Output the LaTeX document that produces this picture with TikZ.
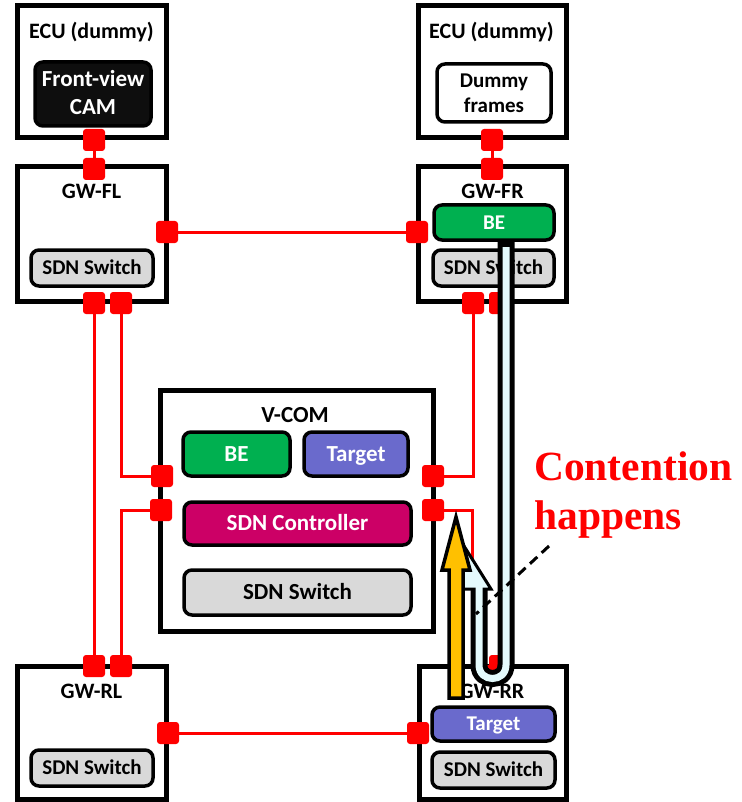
\documentclass[tikz,border=0pt]{standalone}
\usepackage{fontspec}
\setmainfont{Carlito}
\newfontfamily\notefont{Liberation Serif}

\definecolor{beGreen}{RGB}{0,176,80}
\definecolor{tgtPurple}{RGB}{106,106,204}
\definecolor{ctrlMagenta}{RGB}{204,0,102}
\definecolor{swGray}{RGB}{217,217,217}
\definecolor{portRed}{RGB}{255,0,0}
\definecolor{pipeCyan}{RGB}{228,250,252}
\definecolor{flowOrange}{RGB}{255,192,0}
\definecolor{camBlack}{RGB}{14,14,14}

\tikzset{
  unit/.style={draw=black, line width=5pt, fill=white, inner sep=0pt},
  panel/.style={draw=black, line width=3.5pt, rounded corners=8pt, inner sep=0pt},
  gwtext/.style={font=\bfseries\fontsize{21}{25}\selectfont, text height=13.5pt, text depth=0pt},
  vctext/.style={font=\bfseries\fontsize{23}{27}\selectfont, text height=14.8pt, text depth=0pt},
  title/.style={anchor=base, inner sep=0pt, font=\bfseries\fontsize{22}{26}\selectfont},
  linetext/.style={anchor=base, inner sep=0pt},
  port/.style={fill=portRed, rounded corners=3pt, minimum size=22pt, inner sep=0pt},
  link/.style={draw=portRed, line width=3pt},
  note/.style={anchor=base west, inner sep=0pt, text=portRed,
    font=\notefont\bfseries\fontsize{41.5}{48}\selectfont},
}

\begin{document}
\begin{tikzpicture}[x=1pt,y=-1pt]
\useasboundingbox (0,0) rectangle (741,802);

% ---------- units ----------
\node[unit, minimum width=149pt, minimum height=132pt] (ecuL) at (91.5,72) {};
\node[unit, minimum width=148pt, minimum height=132pt] (ecuR) at (492,72) {};
\node[unit, minimum width=149pt, minimum height=134pt] (gwFL) at (91.5,234) {};
\node[unit, minimum width=148pt, minimum height=134pt] (gwFR) at (492,234) {};
\node[unit, minimum width=273pt, minimum height=241pt] (vcom) at (296.5,510.5) {};
\node[unit, minimum width=149pt, minimum height=133.5pt] (gwRL) at (91.5,732.75) {};
\node[unit, minimum width=147pt, minimum height=133.5pt] (gwRR) at (492.5,732.75) {};

% ---------- unit titles ----------
\node[title] (ecuLt) at (91.5,39) {ECU (dummy)};
\node[title] (ecuRt) at (491.5,39) {ECU (dummy)};
\node[title] (gwFLt) at (91.5,199) {GW-FL};
\node[title] (gwFRt) at (492.5,199) {GW-FR};
\node[title] (gwRLt) at (91.5,698) {GW-RL};
\node[title] (gwRRt) at (492,698) {GW-RR};
\node[title, font=\bfseries\fontsize{23}{27}\selectfont] (vcomt) at (295,422) {V-COM};

% ---------- ECU contents ----------
\node[panel, fill=camBlack, minimum width=116pt, minimum height=64pt] (cam) at (93,94) {};
\node[linetext, text=white, font=\bfseries\fontsize{23}{27}\selectfont] (camA) at (93,87) {Front-view};
\node[linetext, text=white, font=\bfseries\fontsize{23}{27}\selectfont] (camB) at (93,115) {CAM};

\node[panel, fill=white, minimum width=114pt, minimum height=58pt] (dummy) at (494,93) {};
\node[linetext, font=\bfseries\fontsize{21}{25}\selectfont] (dummyA) at (494,88) {Dummy};
\node[linetext, font=\bfseries\fontsize{21}{25}\selectfont] (dummyB) at (494,113) {frames};

% ---------- gateway contents ----------
\node[panel, gwtext, fill=swGray, minimum width=122pt, minimum height=36pt] (swFL) at (92,268) {SDN Switch};
\node[panel, gwtext, fill=beGreen, text=white, minimum width=120pt, minimum height=35pt] (beFR) at (494,222.5) {BE};
\node[panel, gwtext, fill=swGray, minimum width=121pt, minimum height=36pt] (swFR) at (493.5,268) {SDN Switch};
\node[panel, gwtext, fill=swGray, minimum width=122pt, minimum height=36pt] (swRL) at (92,768) {SDN Switch};
\node[panel, gwtext, fill=tgtPurple, text=white, minimum width=123pt, minimum height=34pt] (tgtRR) at (493.5,724) {Target};
\node[panel, gwtext, fill=swGray, minimum width=123pt, minimum height=36pt] (swRR) at (493.5,770) {SDN Switch};

% ---------- V-COM contents ----------
\node[panel, vctext, fill=beGreen, text=white, minimum width=107pt, minimum height=44pt] (beV) at (236.5,454) {BE};
\node[panel, vctext, fill=tgtPurple, text=white, minimum width=104pt, minimum height=44pt] (tgtV) at (356,454) {Target};
\node[panel, vctext, fill=ctrlMagenta, text=white, minimum width=227pt, minimum height=43pt] (ctlV) at (297.5,523.5) {SDN Controller};
\node[panel, vctext, fill=swGray, minimum width=227pt, minimum height=45pt] (swV) at (297.5,592.5) {SDN Switch};

% ---------- ports ----------
\node[port] (pEL) at (94,140) {};
\node[port] (pFLt) at (94,169) {};
\node[port] (pER) at (492,140) {};
\node[port] (pFRt) at (492,169) {};
\node[port] (pFLr) at (167,232) {};
\node[port] (pFRl) at (417,232) {};
\node[port] (pFLb1) at (94,303) {};
\node[port] (pFLb2) at (121,303) {};
\node[port] (pRLt1) at (94,666) {};
\node[port] (pRLt2) at (121,666) {};
\node[port] (pVl1) at (162,476) {};
\node[port] (pVl2) at (161,510) {};
\node[port] (pVr1) at (433,476) {};
\node[port] (pVr2) at (433,510) {};
\node[port] (pFRb1) at (473,303) {};
\node[port] (pFRb2) at (500,303) {};
\node[port] (pRRt) at (500,666) {};
\node[port] (pRLr) at (168,733) {};
\node[port] (pRRl) at (418,733) {};
\coordinate (vrBend) at (472,660);

% ---------- links ----------
\draw[link] (pEL.center) -- (pFLt.center);
\draw[link] (pER.center) -- (pFRt.center);
\draw[link] (pFLr.center) -- (pFRl.center);
\draw[link] (pRLr.center) -- (pRRl.center);
\draw[link] (pFLb1.center) -- (pRLt1.center);
\draw[link] (pFLb2.center) |- (pVl1.center);
\draw[link] (pVl2.center) -| (pRLt2.center);
\draw[link] (pFRb1.center) |- (pVr1.center);
\draw[link] (pVr2.center) -| (vrBend) |- (pRRt.center);
\draw[link] (pFRb2.center) -- (pRRt.center);

% ---------- best-effort flow: U-turn pipe from GW-FR back up ----------
\draw[line width=17pt, black] (506,240) -- (506,665)
  .. controls (506,683) and (479,683) .. (479,665) -- (479,589);
\draw[line width=3pt, fill=pipeCyan, line join=miter] (464,546) -- (491,589) -- (455,589) -- cycle;
\draw[line width=7pt, pipeCyan] (506,247) -- (506,665)
  .. controls (506,683) and (479,683) .. (479,665) -- (479,584);

% ---------- target flow ----------
\draw[line width=3.5pt, fill=flowOrange, line join=miter]
  (449,698) -- (449,570) -- (442,570) -- (456,517) -- (470,570) -- (463,570) -- (463,698) -- cycle;

% ---------- annotation ----------
\node[note] (noteA) at (534,480) {Contention};
\node[note] (noteB) at (534,529) {happens};
\coordinate (calloutStart) at (549,546);
\coordinate (calloutEnd) at (476,614);
\draw[line width=3pt, dash pattern=on 10pt off 6pt] (calloutStart) -- (calloutEnd);

\end{tikzpicture}
\end{document}
